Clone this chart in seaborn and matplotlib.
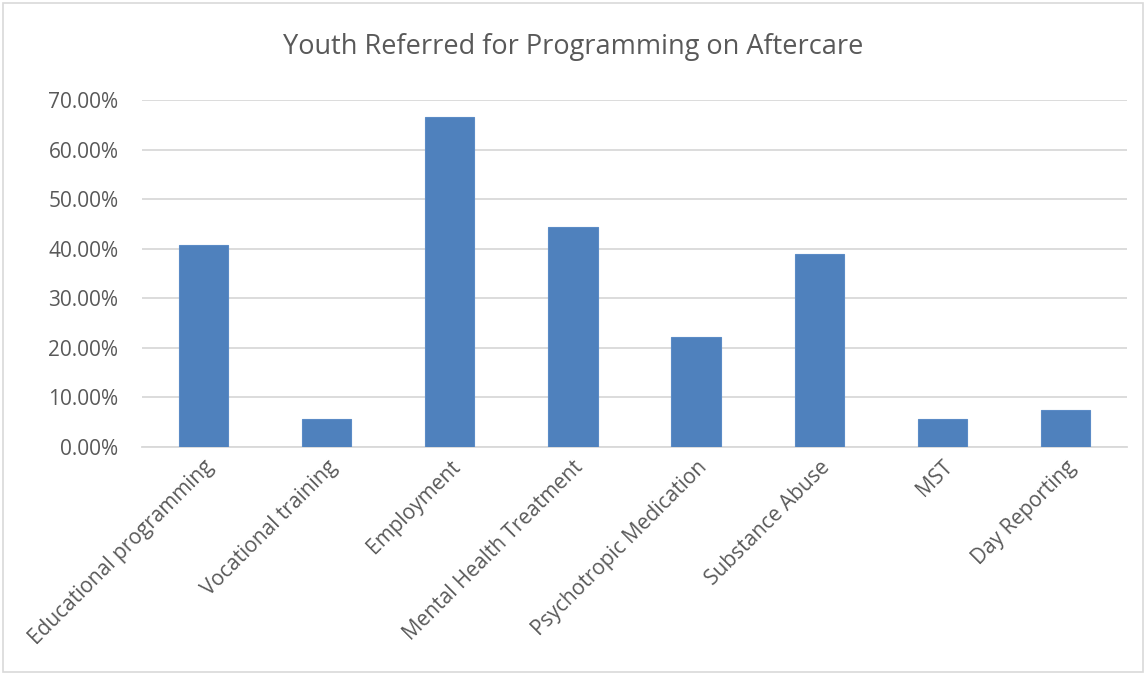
import matplotlib
matplotlib.use("Agg")
import matplotlib.pyplot as plt
import matplotlib.ticker as mticker
from matplotlib.patches import Rectangle
import seaborn as sns
import pandas as pd

# Data
categories = ["Educational programming", "Vocational training", "Employment",
              "Mental Health Treatment", "Psychotropic Medication", "Substance Abuse",
              "MST", "Day Reporting"]
percent_referred = [0.4074, 0.0556, 0.6667, 0.4444, 0.2222, 0.3889, 0.0556, 0.0741]

df = pd.DataFrame({"program": categories, "share": percent_referred})

sns.set_theme(style="white")
plt.rcParams["font.family"] = ["Open Sans", "DejaVu Sans"]
text_color = "#595959"

fig = plt.figure(figsize=(11.47, 6.75), dpi=100)
ax = fig.add_axes([142 / 1147, 1 - 447 / 675, (1127 - 142) / 1147, (447 - 100) / 675])

sns.barplot(data=df, x="program", y="share", color="#4F81BD", width=0.4,
            saturation=1, edgecolor="#5B8BC6", linewidth=0.8, ax=ax, zorder=3)

ax.set_ylim(0, 0.70)
ax.set_xlim(-0.5, len(categories) - 0.5)
ax.yaxis.set_major_locator(mticker.MultipleLocator(0.10))
ax.yaxis.set_major_formatter(mticker.FuncFormatter(lambda v, p: f"{v * 100:.2f}%"))
ax.grid(axis="y", color="#D9D9D9", linewidth=1.3, zorder=0)
ax.set_axisbelow(True)
for s in ["top", "right", "left"]:
    ax.spines[s].set_visible(False)
ax.spines["bottom"].set_color("#D9D9D9")
ax.spines["bottom"].set_linewidth(1.3)

ax.set_xlabel("")
ax.set_ylabel("")
ax.tick_params(axis="y", labelsize=15, colors=text_color, length=0, pad=17)
ax.tick_params(axis="x", labelsize=15, colors=text_color, length=0, pad=7)
plt.setp(ax.get_xticklabels(), rotation=45, ha="right", va="top",
         rotation_mode="anchor")

fig.suptitle("Youth Referred for Programming on Aftercare", fontsize=19.5,
             color=text_color, y=1 - 47 / 675, va="center")

# chart-area border
fig.patches.append(Rectangle((3 / 1147, 3 / 675), 1140 / 1147, 669 / 675,
                             transform=fig.transFigure, fill=False,
                             edgecolor="#D9D9D9", linewidth=1.2))

fig.savefig("out.png", dpi=100, facecolor="white")
